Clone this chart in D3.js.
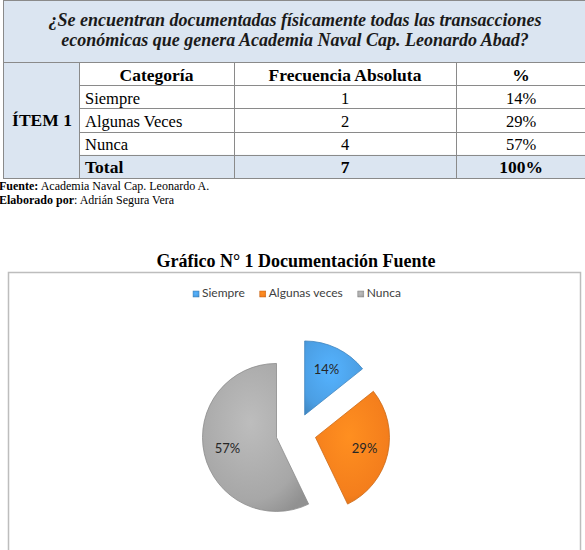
<!DOCTYPE html>
<html>
<head>
<meta charset="utf-8">
<script src="https://cdn.jsdelivr.net/npm/d3@7"></script>
<style>
  body { margin: 0; background: #fff; }
  svg { display: block; }
</style>
</head>
<body>
<svg id="chart"></svg>
<script>
// ---- data ----
const questionLines = [
  '¿Se encuentran documentadas físicamente todas las transacciones',
  'económicas que genera Academia Naval Cap. Leonardo Abad?'
];
const itemLabel = 'ÍTEM 1';
const headers = ['Categoría', 'Frecuencia Absoluta', '%'];
const categories = ['Siempre', 'Algunas Veces', 'Nunca'];
const frequencies = [1, 2, 4];
const percentLabels = ['14%', '29%', '57%'];
const totalRow = ['Total', '7', '100%'];
const legendLabels = ['Siempre', 'Algunas veces', 'Nunca'];
const chartTitle = 'Gráfico N° 1 Documentación Fuente';
const colors = ['#4b9ee3', '#f47e1c', '#a7a7a7'];

const W = 585, H = 550;
const svg = d3.select('#chart').attr('width', W).attr('height', H);
const serif = '"Liberation Serif", "Times New Roman", serif';
const lightBlue = '#dbe5f1';
const lineColor = '#8a8a8a';

// ---- table ----
const tableLeft = 3, tableRight = 586, titleBottom = 62, tableBottom = 178;
const colEdges = [tableLeft, 79, 234, 456, tableRight];

const rowKeys = ['header'].concat(categories, ['total']);
const y = d3.scaleBand().domain(rowKeys).range([titleBottom, tableBottom]);

const table = svg.append('g').attr('class', 'table');

// backgrounds
table.append('rect')
  .attr('x', tableLeft).attr('y', 0)
  .attr('width', tableRight - tableLeft).attr('height', titleBottom)
  .attr('fill', lightBlue);
table.append('rect')
  .attr('x', tableLeft).attr('y', titleBottom)
  .attr('width', colEdges[1] - tableLeft).attr('height', tableBottom - titleBottom)
  .attr('fill', lightBlue);
table.append('rect')
  .attr('x', colEdges[1]).attr('y', y('total'))
  .attr('width', tableRight - colEdges[1]).attr('height', y.bandwidth())
  .attr('fill', lightBlue);

// title text
table.selectAll('.q-line')
  .data(questionLines)
  .join('text')
    .attr('class', 'q-line')
    .attr('x', 295)
    .attr('y', (d, i) => 26 + i * 20)
    .attr('text-anchor', 'middle')
    .style('font-family', serif)
    .style('font-size', '18px')
    .style('font-weight', 'bold')
    .style('font-style', 'italic')
    .attr('fill', '#1a1a1a')
    .text(d => d);

// grid lines
const hLines = [titleBottom].concat(rowKeys.slice(1).map(k => y(k)));
table.selectAll('.h-line')
  .data(hLines)
  .join('line')
    .attr('class', 'h-line')
    .attr('x1', (d, i) => i === 0 ? tableLeft : colEdges[1])
    .attr('x2', tableRight)
    .attr('y1', d => Math.round(d) + 0.5)
    .attr('y2', d => Math.round(d) + 0.5)
    .attr('stroke', lineColor);
table.selectAll('.v-line')
  .data(colEdges.slice(1, 4))
  .join('line')
    .attr('class', 'v-line')
    .attr('x1', d => d + 0.5).attr('x2', d => d + 0.5)
    .attr('y1', titleBottom).attr('y2', tableBottom)
    .attr('stroke', lineColor);
table.append('rect')
  .attr('x', tableLeft + 0.5).attr('y', 0.5)
  .attr('width', tableRight - tableLeft).attr('height', tableBottom)
  .attr('fill', 'none')
  .attr('stroke', lineColor);

// item label
table.append('text')
  .attr('x', (tableLeft + colEdges[1]) / 2 + 1)
  .attr('y', 126)
  .attr('text-anchor', 'middle')
  .style('font-family', serif)
  .style('font-size', '17.5px')
  .style('font-weight', 'bold')
  .text(itemLabel);

const colCenter = i => (colEdges[i + 1] + colEdges[i + 2]) / 2;

// header row
table.selectAll('.hdr')
  .data(headers)
  .join('text')
    .attr('class', 'hdr')
    .attr('x', (d, i) => colCenter(i))
    .attr('y', y('header') + 18.5)
    .attr('text-anchor', 'middle')
    .style('font-family', serif)
    .style('font-size', '17.5px')
    .style('font-weight', 'bold')
    .text(d => d);

// data rows
const rows = table.selectAll('.row')
  .data(categories)
  .join('g')
    .attr('class', 'row')
    .attr('transform', d => `translate(0,${y(d) + 18.5})`);
rows.append('text')
  .attr('x', colEdges[1] + 6)
  .style('font-family', serif).style('font-size', '16.5px')
  .text(d => d);
rows.append('text')
  .attr('x', colCenter(1)).attr('text-anchor', 'middle')
  .style('font-family', serif).style('font-size', '16.5px')
  .text((d, i) => frequencies[i]);
rows.append('text')
  .attr('x', colCenter(2)).attr('text-anchor', 'middle')
  .style('font-family', serif).style('font-size', '16.5px')
  .text((d, i) => percentLabels[i]);

// total row
table.selectAll('.tot')
  .data(totalRow)
  .join('text')
    .attr('class', 'tot')
    .attr('x', (d, i) => i === 0 ? colEdges[1] + 6 : colCenter(i))
    .attr('y', y('total') + 18.5)
    .attr('text-anchor', (d, i) => i === 0 ? 'start' : 'middle')
    .style('font-family', serif)
    .style('font-size', '17.5px')
    .style('font-weight', 'bold')
    .text(d => d);

// source notes
const note1 = svg.append('text').attr('x', -1).attr('y', 190)
  .style('font-family', serif).style('font-size', '12px');
note1.append('tspan').style('font-weight', 'bold').text('Fuente:');
note1.append('tspan').text(' Academia Naval Cap. Leonardo A.');
const note2 = svg.append('text').attr('x', -1).attr('y', 204)
  .style('font-family', serif).style('font-size', '12px');
note2.append('tspan').style('font-weight', 'bold').text('Elaborado por');
note2.append('tspan').text(': Adrián Segura Vera');

// ---- chart ----
svg.append('text')
  .attr('x', 296).attr('y', 267)
  .attr('text-anchor', 'middle')
  .style('font-family', serif)
  .style('font-size', '18px')
  .style('font-weight', 'bold')
  .text(chartTitle);

svg.append('rect')
  .attr('x', 8.5).attr('y', 272.5)
  .attr('width', 572).attr('height', 300)
  .attr('fill', '#fff')
  .attr('stroke', '#bdbdbd')
  .attr('stroke-width', 1.5);

// gradients for the bevel look
const defs = svg.append('defs');
colors.forEach((c, i) => {
  const g = defs.append('radialGradient')
    .attr('id', 'grad' + i)
    .attr('cx', '45%').attr('cy', '40%').attr('r', '70%');
  g.append('stop').attr('offset', '0%').attr('stop-color', d3.color(c).brighter(0.35));
  g.append('stop').attr('offset', '75%').attr('stop-color', c);
  g.append('stop').attr('offset', '100%').attr('stop-color', d3.color(c).darker(0.4));
});

// legend
const sans = 'Lato, "Open Sans", sans-serif';
const legend = svg.append('g').attr('class', 'legend');
const entries = legend.selectAll('.legend-entry')
  .data(legendLabels)
  .join('g')
    .attr('class', 'legend-entry');
entries.append('rect')
  .attr('width', 6).attr('height', 6)
  .attr('y', -6)
  .attr('fill', (d, i) => `url(#grad${i})`)
  .attr('stroke', (d, i) => d3.color(colors[i]).darker(0.6))
  .attr('stroke-width', 0.5);
entries.append('text')
  .attr('x', 9)
  .attr('y', 0)
  .style('font-family', sans)
  .style('font-size', '12px')
  .attr('fill', '#404040')
  .text(d => d);
let lx = 0;
const offsets = [];
entries.each(function() {
  offsets.push(lx);
  lx += this.getBBox().width + 15;
});
const legendW = lx - 15;
entries.attr('transform', (d, i) => `translate(${offsets[i]},0)`);
legend.attr('transform', `translate(${297 - legendW / 2},297)`);

// pie
const cx = 296, cy = 433, radius = 74, explode = 20;
const pie = d3.pie().sort(null).value(d => d);
const arc = d3.arc().innerRadius(0).outerRadius(radius);
const labelArc = d3.arc().innerRadius(radius * 0.68).outerRadius(radius * 0.68);

const pieG = svg.append('g').attr('transform', `translate(${cx},${cy})`);
const slices = pieG.selectAll('.slice')
  .data(pie(frequencies))
  .join('g')
    .attr('class', 'slice')
    .attr('transform', d => {
      const a = (d.startAngle + d.endAngle) / 2;
      return `translate(${Math.sin(a) * explode},${-Math.cos(a) * explode})`;
    });
slices.append('path')
  .attr('d', arc)
  .attr('fill', (d, i) => `url(#grad${i})`)
  .attr('stroke', (d, i) => d3.color(colors[i]).darker(0.5))
  .attr('stroke-width', 0.8);
slices.append('text')
  .attr('transform', d => `translate(${labelArc.centroid(d)})`)
  .attr('text-anchor', 'middle')
  .attr('dy', '0.35em')
  .style('font-family', sans)
  .style('font-size', '13px')
  .attr('fill', '#262626')
  .text((d, i) => percentLabels[i]);
</script>
</body>
</html>
